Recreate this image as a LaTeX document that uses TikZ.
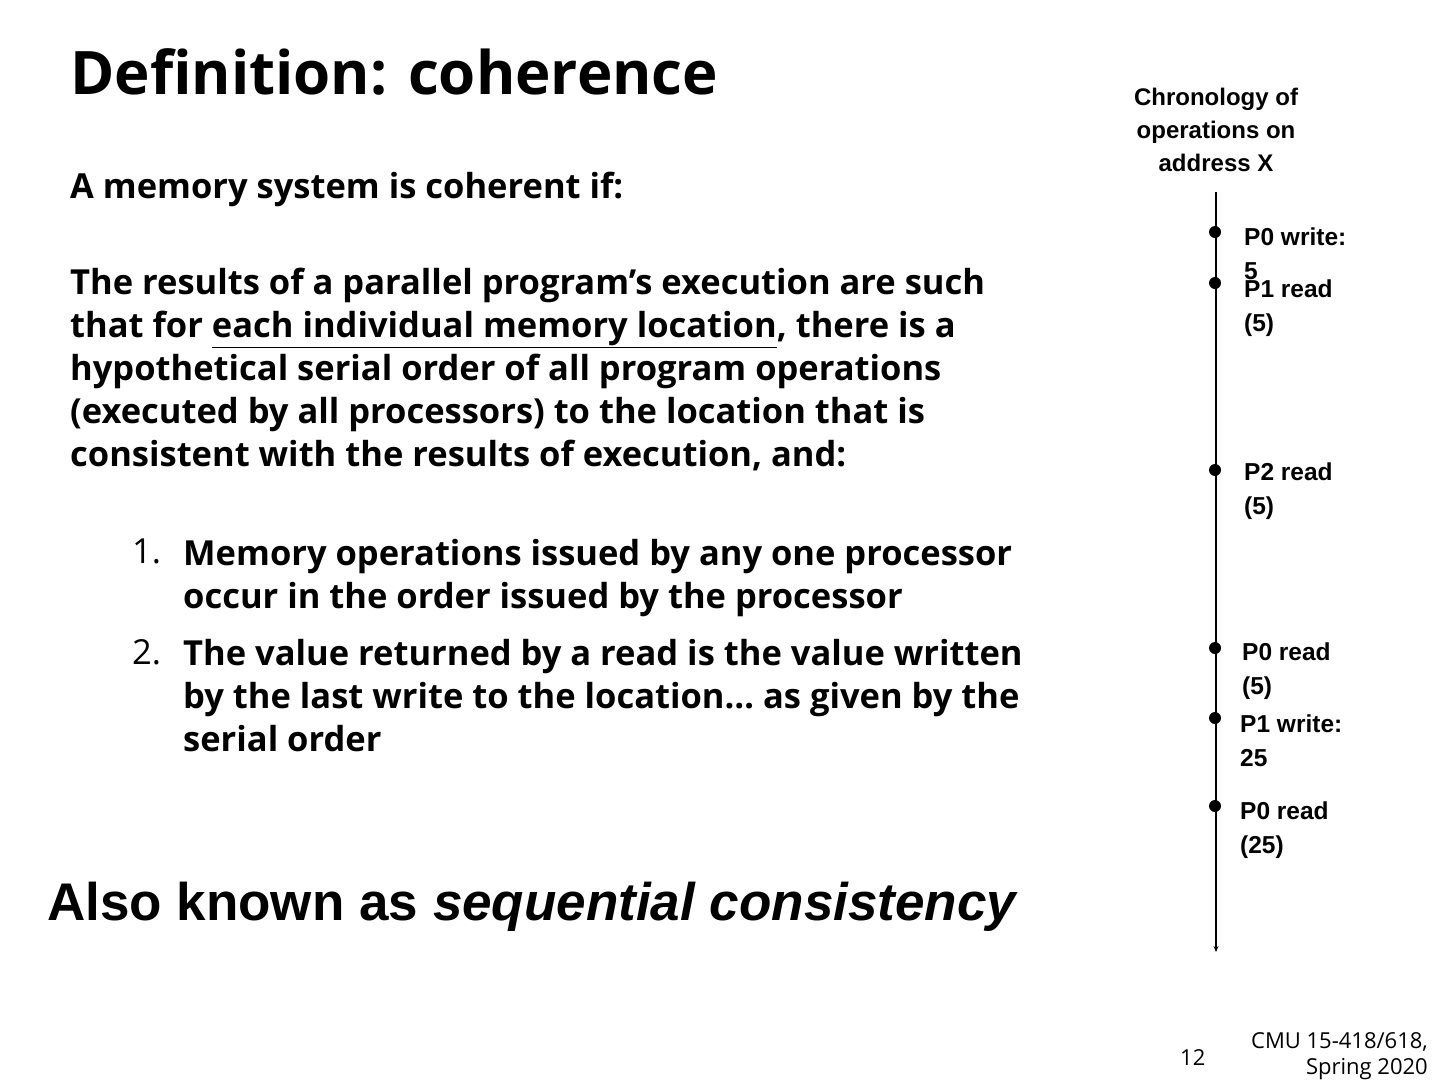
\documentclass[tikz,border=0pt]{standalone}
\usepackage{fontspec}
\usetikzlibrary{arrows.meta}
\setmainfont{Open Sans}
\newfontfamily\arialf{Liberation Sans}
\begin{document}
\begin{tikzpicture}[x=1pt,y=-1pt,
  body/.style={anchor=north west,inner sep=0pt,font=\bfseries\fontsize{34.5}{43}\selectfont,align=left},
  lab/.style={anchor=north west,inner sep=0pt,font=\arialf\bfseries\fontsize{24.5}{34}\selectfont,align=left},
  dot/.style={circle,fill=black,inner sep=0pt,minimum size=12pt}]
\useasboundingbox (0,0) rectangle (1440,1080);
\node[anchor=west,inner sep=0pt,font=\bfseries\fontsize{60}{62}\selectfont] (title) at (70,72) {Definition: coherence};
\node[body] (t1) at (70,172) {A memory system is coherent if:};
\node[body] (t2) at (70,268) {The results of a parallel program’s execution are such\\that for \underline{each individual memory location}, there is a\\hypothetical serial order of all program operations\\(executed by all processors) to the location that is\\consistent with the results of execution, and:};
\node[body,font=\fontsize{34.5}{43}\selectfont] (n1) at (132,539) {1.};
\node[body] (i1) at (183,539) {Memory operations issued by any one processor\\occur in the order issued by the processor};
\node[body,font=\fontsize{34.5}{43}\selectfont] (n2) at (132,639) {2.};
\node[body] (i2) at (183,639) {The value returned by a read is the value written\\by the last write to the location… as given by the\\serial order};
\node[anchor=west,inner sep=0pt,font=\arialf\bfseries\fontsize{53}{54}\selectfont] (aka) at (47,907) {Also known as \textit{sequential consistency}};
\node[anchor=north,inner sep=0pt,font=\arialf\bfseries\fontsize{24}{33}\selectfont,align=center] (chr) at (1216,88) {Chronology of\\operations on\\address X};
\coordinate (top) at (1216,192);
\coordinate (bot) at (1216,952);
\draw[line width=1.5pt,-{Stealth[length=6pt,width=5pt]}] (top) -- (bot);
\foreach \y/\n in {232/a,283/b,470/c,648/d,718/e,806/f} \node[dot] (d\n) at (1215,\y) {};
\node[lab] (la) at (1244,228) {P0 write:\\5};
\node[lab] (lb) at (1244,280) {P1 read\\(5)};
\node[lab] (lc) at (1244,463) {P2 read\\(5)};
\node[lab] (ld) at (1242,643) {P0 read\\(5)};
\node[lab] (le) at (1240,715) {P1 write:\\25};
\node[lab] (lf) at (1240,802) {P0 read\\(25)};
\node[anchor=west,inner sep=0pt,font=\fontsize{22}{22}\selectfont] (pg) at (1180,1058) {12};
\node[anchor=north east,inner sep=0pt,font=\fontsize{22}{26}\selectfont,align=right] (cmu) at (1428,1032) {CMU 15-418/618,\\Spring 2020};
\end{tikzpicture}
\end{document}
